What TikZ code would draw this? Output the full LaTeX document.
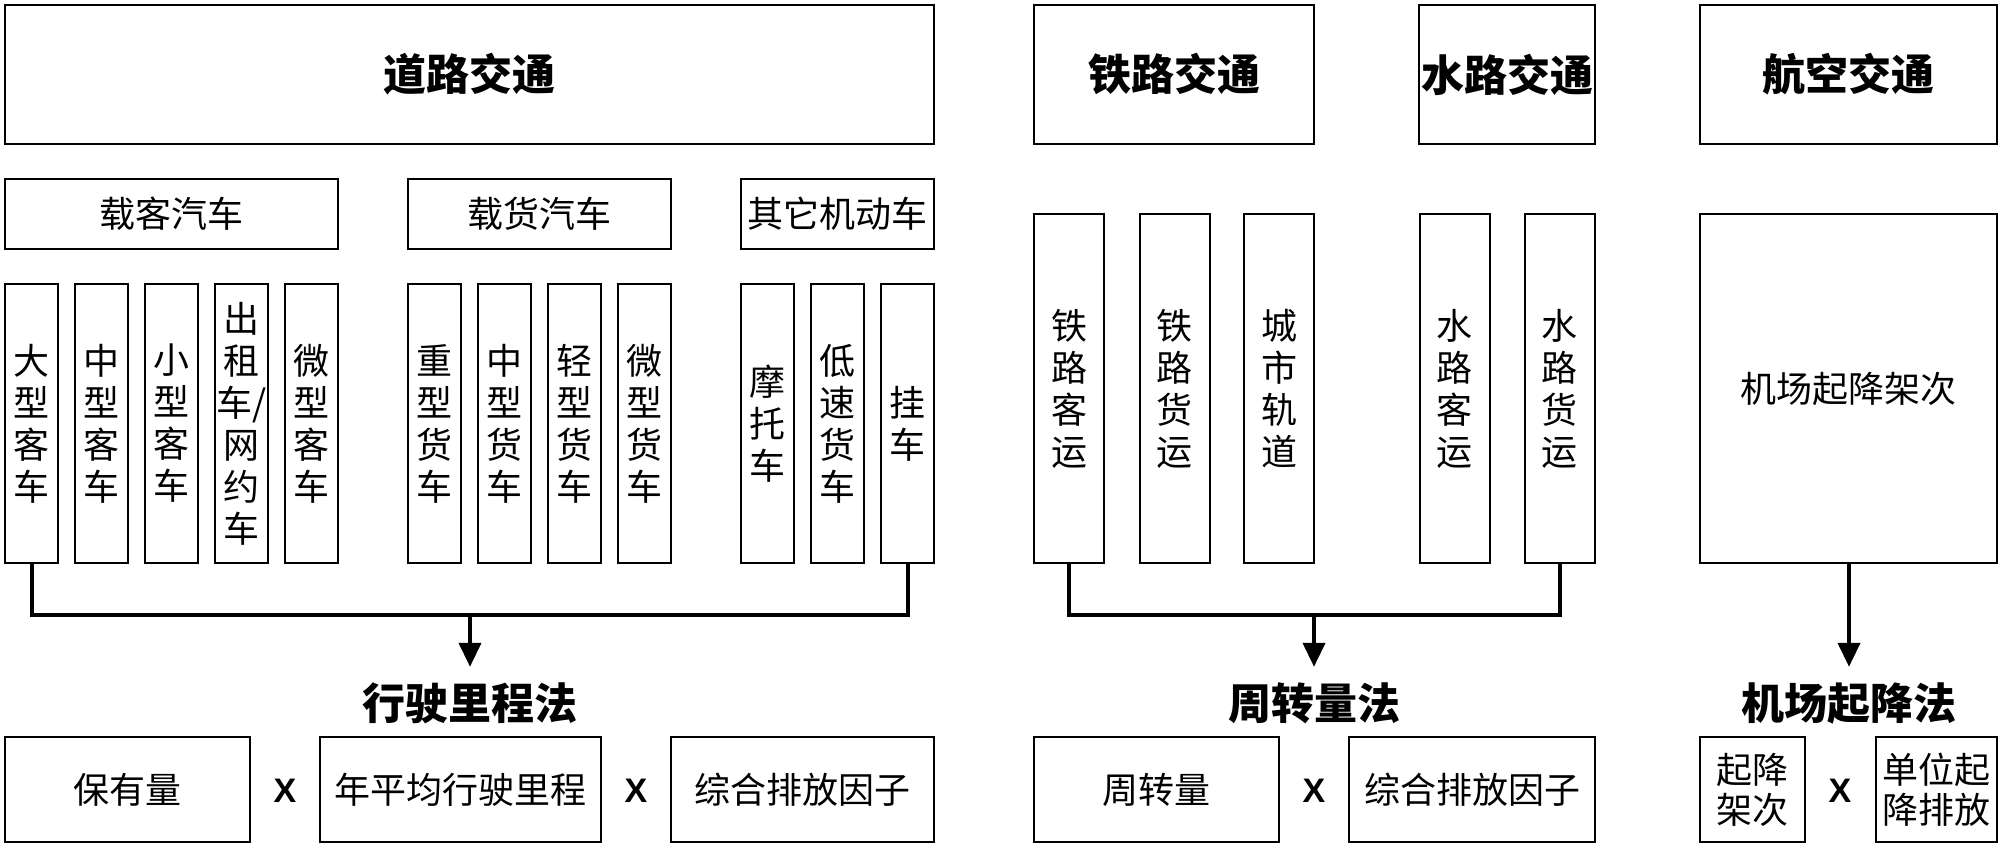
\documentclass[tikz,border=0pt]{standalone}
\usepackage{fontspec}
\newfontfamily\cjk{Noto Sans CJK SC}
\newfontfamily\xfont{Liberation Sans}
\usetikzlibrary{arrows.meta}
\tikzset{
  box/.style={draw=black, line width=2pt, inner sep=0pt, align=center,
    font=\cjk\fontsize{36}{42}\selectfont},
  headbox/.style={box, font=\cjk\bfseries\fontsize{43}{50}\selectfont},
  vbox/.style={box, minimum width=53pt, minimum height=279pt},
  rbox/.style={box, minimum width=70pt, minimum height=349pt},
  botbox/.style={box, minimum height=105pt},
  title/.style={inner sep=0pt, minimum height=72pt, font=\cjk\bfseries\fontsize{43}{50}\selectfont},
  times/.style={inner sep=0pt, font=\xfont\bfseries\fontsize{34}{40}\selectfont},
  conn/.style={line width=4pt, line join=miter},
  arr/.style={line width=4pt, -{Triangle[length=24pt,width=22pt]}}
}
\begin{document}
\begin{tikzpicture}[x=1pt,y=-1pt]
\useasboundingbox (0,0) rectangle (2000,847);
% ---- headers
\node[headbox, minimum width=929pt, minimum height=139pt] (road) at (469.5,74.5) {道路交通};
\node[headbox, minimum width=280pt, minimum height=139pt] (rail) at (1174,74.5) {铁路交通};
\node[headbox, minimum width=176pt, minimum height=139pt] (water) at (1507,74.5) {水路交通};
\node[headbox, minimum width=297pt, minimum height=139pt] (air) at (1848.5,74.5) {航空交通};
% ---- road categories
\node[box, minimum width=333pt, minimum height=70pt] (pass) at (171.5,214) {载客汽车};
\node[box, minimum width=263pt, minimum height=70pt] (frt) at (539.5,214) {载货汽车};
\node[box, minimum width=193pt, minimum height=70pt] (oth) at (837.5,214) {其它机动车};
% ---- road vehicles
\node[vbox] (v1) at (31.5,423.5) {大\\型\\客\\车};
\node[vbox] (v2) at (101.5,423.5) {中\\型\\客\\车};
\node[vbox] (v3) at (171.5,423.5) {小\\型\\客\\车};
\node[vbox] (v4) at (241.5,423.5) {出\\租\\车/\\网\\约\\车};
\node[vbox] (v5) at (311.5,423.5) {微\\型\\客\\车};
\node[vbox] (v6) at (434.5,423.5) {重\\型\\货\\车};
\node[vbox] (v7) at (504.5,423.5) {中\\型\\货\\车};
\node[vbox] (v8) at (574.5,423.5) {轻\\型\\货\\车};
\node[vbox] (v9) at (644.5,423.5) {微\\型\\货\\车};
\node[vbox] (v10) at (767.5,423.5) {摩\\托\\车};
\node[vbox] (v11) at (837.5,423.5) {低\\速\\货\\车};
\node[vbox] (v12) at (907.5,423.5) {挂\\车};
% ---- rail / water
\node[rbox] (r1) at (1069,388.5) {铁\\路\\客\\运};
\node[rbox] (r2) at (1174.5,388.5) {铁\\路\\货\\运};
\node[rbox] (r3) at (1279,388.5) {城\\市\\轨\\道};
\node[rbox] (w1) at (1454.5,388.5) {水\\路\\客\\运};
\node[rbox] (w2) at (1559.5,388.5) {水\\路\\货\\运};
\node[box, minimum width=297pt, minimum height=349pt] (ap) at (1848.5,388.5) {机场起降架次};
% ---- method titles
\node[title] (t1) at (470,703) {行驶里程法};
\node[title] (t2) at (1314,703) {周转量法};
\node[title] (t3) at (1849,703) {机场起降法};
% ---- connectors
\coordinate (j1) at (470,615);
\coordinate (j2) at (1314,615);
\draw[conn] (v1.south) |- (j1) -| (v12.south);
\draw[arr] (j1) -- (t1.north);
\draw[conn] (r1.south) |- (j2) -| (w2.south);
\draw[arr] (j2) -- (t2.north);
\draw[arr] (ap.south -| t3.north) -- (t3.north);
% ---- formulas
\node[botbox, minimum width=245pt] (f1) at (127.5,789.5) {保有量};
\node[times] (x1) at (285,791) {X};
\node[botbox, minimum width=281pt] (f2) at (460.5,789.5) {年平均行驶里程};
\node[times] (x2) at (636,791) {X};
\node[botbox, minimum width=263pt] (f3) at (802.5,789.5) {综合排放因子};
\node[botbox, minimum width=245pt] (g1) at (1156.5,789.5) {周转量};
\node[times] (x3) at (1314,791) {X};
\node[botbox, minimum width=246pt] (g2) at (1472,789.5) {综合排放因子};
\node[botbox, minimum width=105pt, font=\cjk\fontsize{36}{40}\selectfont] (h1) at (1752.5,789.5) {起降\\架次};
\node[times] (x4) at (1840,791) {X};
\node[botbox, minimum width=121pt, font=\cjk\fontsize{36}{40}\selectfont] (h2) at (1936.5,789.5) {单位起\\降排放};
\end{tikzpicture}
\end{document}
